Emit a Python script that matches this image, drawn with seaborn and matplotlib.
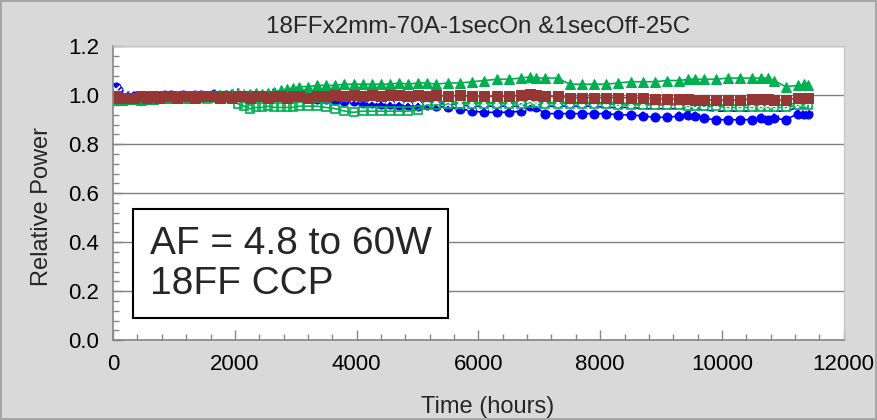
import matplotlib
matplotlib.use('Agg')
import matplotlib.pyplot as plt
from matplotlib.ticker import MultipleLocator
import seaborn as sns

sns.set_theme(style='white')
plt.rcParams['font.family'] = ['Liberation Sans', 'DejaVu Sans']

TITLE = '18FFx2mm-70A-1secOn &1secOff-25C'
X_LABEL = 'Time (hours)'
Y_LABEL = 'Relative Power'
NOTE = 'AF = 4.8 to 60W\n18FF CCP'

hours = [0, 40, 80, 150, 250, 350, 450, 550, 650, 750,
         850, 950, 1050, 1150, 1250, 1350, 1450, 1550, 1650, 1750,
         1850, 1950, 2050, 2150, 2250, 2350, 2450, 2550, 2650, 2750,
         2850, 2950, 3050, 3200, 3350, 3500, 3650, 3800, 3950, 4100,
         4250, 4400, 4550, 4700, 4850, 5000, 5150, 5300, 5500, 5700,
         5900, 6100, 6300, 6500, 6700, 6850, 6950, 7100, 7300, 7500,
         7700, 7900, 8100, 8300, 8500, 8700, 8900, 9100, 9300, 9450,
         9550, 9700, 9900, 10100, 10300, 10500, 10650, 10750, 10850, 11050,
         11250, 11350, 11420]

blue_circle = [0.995, 1.035, 1.02, 1.0, 0.995, 0.995, 0.99, 0.995, 0.99, 0.995,
               1.0, 1.0, 0.995, 1.0, 0.995, 1.0, 1.0, 0.995, 1.005, 1.0,
               1.0, 1.005, 1.01, 1.005, 1.0, 1.005, 1.0, 1.005, 1.01, 1.0,
               1.005, 1.0, 0.995, 0.99, 0.985, 0.985, 0.98, 0.975, 0.975, 0.97,
               0.97, 0.965, 0.965, 0.96, 0.96, 0.955, 0.96, 0.955, 0.95, 0.945,
               0.935, 0.93, 0.93, 0.93, 0.935, 0.955, 0.95, 0.925, 0.925, 0.925,
               0.925, 0.925, 0.925, 0.92, 0.92, 0.915, 0.91, 0.91, 0.915, 0.92,
               0.915, 0.905, 0.9, 0.9, 0.9, 0.9, 0.905, 0.9, 0.905, 0.9,
               0.925, 0.925, 0.925]

blue_cross = [1.0, 1.02, 1.01, 1.0, 1.0, 0.995, 1.0, 0.995, 1.0, 1.0,
              1.0, 1.005, 1.0, 1.0, 1.0, 1.005, 1.005, 1.0, 1.005, 1.01,
              1.005, 1.01, 1.015, 1.015, 1.01, 1.015, 1.01, 1.015, 1.01, 1.015,
              1.01, 1.015, 1.02, 1.02, 1.015, 1.01, 1.005, 1.0, 0.995, 0.99,
              0.985, 0.985, 0.98, 0.98, 0.975, 0.975, 0.97, 0.97, 0.965, 0.96,
              0.955, 0.955, 0.955, 0.955, 0.955, 0.97, 0.965, 0.955, 0.955, 0.955,
              0.955, 0.955, 0.95, 0.95, 0.95, 0.945, 0.945, 0.945, 0.945, 0.95,
              0.945, 0.94, 0.935, 0.935, 0.935, 0.935, 0.94, 0.935, 0.935, 0.935,
              0.95, 0.95, 0.95]

green_square = [0.985, 0.99, 0.985, 0.985, 0.985, 0.99, 0.985, 0.99, 0.985, 0.99,
                0.99, 0.985, 0.99, 0.985, 0.99, 0.99, 0.99, 0.985, 0.99, 0.99,
                0.99, 0.985, 0.965, 0.955, 0.945, 0.95, 0.95, 0.955, 0.95, 0.95,
                0.95, 0.95, 0.955, 0.955, 0.955, 0.95, 0.945, 0.935, 0.93, 0.935,
                0.935, 0.935, 0.935, 0.935, 0.935, 0.94, 0.96, 0.96, 0.965, 0.965,
                0.965, 0.965, 0.965, 0.965, 0.965, 0.97, 0.97, 0.965, 0.965, 0.965,
                0.965, 0.965, 0.965, 0.96, 0.96, 0.96, 0.96, 0.96, 0.96, 0.955,
                0.955, 0.955, 0.955, 0.95, 0.95, 0.95, 0.95, 0.95, 0.95, 0.95,
                0.96, 0.965, 0.96]

green_cross = [0.99, 1.0, 0.995, 0.99, 0.99, 0.99, 0.99, 0.99, 0.99, 0.995,
               0.995, 0.995, 1.0, 0.995, 1.0, 1.0, 1.005, 1.0, 1.005, 1.005,
               1.0, 1.005, 1.0, 1.005, 1.0, 1.0, 1.005, 1.0, 1.005, 1.0,
               1.005, 1.0, 1.0, 0.995, 0.995, 0.99, 0.99, 0.985, 0.985, 0.985,
               0.98, 0.98, 0.98, 0.98, 0.975, 0.975, 0.975, 0.975, 0.975, 0.97,
               0.97, 0.97, 0.97, 0.97, 0.975, 0.98, 0.975, 0.97, 0.97, 0.97,
               0.97, 0.97, 0.97, 0.97, 0.965, 0.965, 0.965, 0.965, 0.965, 0.965,
               0.965, 0.965, 0.96, 0.96, 0.96, 0.96, 0.96, 0.96, 0.96, 0.96,
               0.97, 0.975, 0.97]

green_triangle = [0.98, 0.985, 0.98, 0.98, 0.985, 0.985, 0.98, 0.985, 0.985, 0.99,
                  0.99, 0.99, 0.995, 0.995, 0.99, 0.995, 0.995, 0.995, 1.0, 1.0,
                  1.0, 1.005, 1.005, 1.0, 1.005, 1.01, 1.005, 1.01, 1.015, 1.02,
                  1.025, 1.03, 1.035, 1.035, 1.04, 1.04, 1.04, 1.045, 1.045, 1.045,
                  1.045, 1.045, 1.045, 1.05, 1.045, 1.05, 1.05, 1.045, 1.05, 1.05,
                  1.055, 1.06, 1.065, 1.065, 1.07, 1.075, 1.07, 1.07, 1.07, 1.045,
                  1.045, 1.045, 1.045, 1.05, 1.055, 1.055, 1.055, 1.06, 1.06, 1.065,
                  1.065, 1.065, 1.065, 1.07, 1.07, 1.07, 1.07, 1.07, 1.06, 1.035,
                  1.04, 1.045, 1.04]

brown_square = [0.99, 0.995, 0.99, 0.99, 0.99, 0.99, 0.995, 0.99, 0.995, 0.99,
                0.995, 0.995, 0.99, 0.995, 0.995, 0.99, 0.995, 0.995, 0.995, 0.99,
                0.995, 0.99, 0.995, 0.995, 0.99, 0.995, 0.995, 0.99, 0.995, 0.995,
                0.99, 0.995, 0.995, 0.99, 0.995, 0.995, 1.0, 0.995, 1.0, 0.995,
                1.0, 0.995, 1.0, 1.0, 0.995, 1.0, 0.995, 1.0, 0.995, 1.0,
                0.995, 0.995, 0.995, 0.995, 1.0, 1.005, 1.0, 0.995, 0.995, 0.99,
                0.99, 0.99, 0.99, 0.99, 0.99, 0.99, 0.985, 0.985, 0.985, 0.985,
                0.98, 0.98, 0.98, 0.98, 0.98, 0.985, 0.985, 0.985, 0.98, 0.98,
                0.99, 0.99, 0.99]

BLUE = '#0000ff'
GREEN = '#00b050'
BROWN = '#953735'

fig = plt.figure(figsize=(8.77, 4.2), dpi=100)
fig.patch.set_facecolor('#d9d9d9')
fig.patch.set_edgecolor('#a6a6a6')
fig.patch.set_linewidth(1.5)
ax = fig.add_axes([0.129, 0.19, 0.833, 0.70])
ax.set_facecolor('white')

# series drawn back to front
sns.lineplot(x=hours, y=blue_circle, ax=ax, color=BLUE, lw=1.2, marker='o', ms=6.5, mec=BLUE)
sns.lineplot(x=hours, y=blue_cross, ax=ax, color=BLUE, lw=1.2, marker='x', ms=5.5, mew=1.4)
sns.lineplot(x=hours, y=green_square, ax=ax, color=GREEN, lw=1.2, marker='s', ms=6, mfc='none', mec=GREEN, mew=1.2)
sns.lineplot(x=hours, y=green_cross, ax=ax, color=GREEN, lw=1.2, marker='x', ms=5, mew=1.2)
sns.lineplot(x=hours, y=green_triangle, ax=ax, color=GREEN, lw=1.2, marker='^', ms=7.5, mec=GREEN)
sns.lineplot(x=hours, y=brown_square, ax=ax, color=BROWN, lw=1.2, marker='s', ms=6.5, mec=BROWN)

ax.set_xlim(0, 12000)
ax.set_ylim(0, 1.2)
ax.xaxis.set_major_locator(MultipleLocator(2000))
ax.xaxis.set_minor_locator(MultipleLocator(400))
ax.yaxis.set_major_locator(MultipleLocator(0.2))
ax.yaxis.set_minor_locator(MultipleLocator(0.04))
ax.yaxis.set_major_formatter(plt.FormatStrFormatter('%.1f'))
ax.grid(axis='y', color='#808080', lw=1)
ax.grid(axis='x', visible=False)

for side in ['left', 'bottom']:
    ax.spines[side].set_color('#868686')
    ax.spines[side].set_linewidth(1.2)
for side in ['top', 'right']:
    ax.spines[side].set_color('#c8c8c8')
    ax.spines[side].set_linewidth(1)

ax.tick_params(which='both', direction='in', colors='#868686', labelcolor='black',
               bottom=True, left=True, labelsize=16)
ax.tick_params(which='major', length=7, width=1, pad=10)
ax.tick_params(which='minor', length=4, width=1)

ax.set_xlabel(X_LABEL, fontsize=17)
ax.set_ylabel(Y_LABEL, fontsize=17)
ax.xaxis.set_label_coords(0.513, -0.19)
ax.yaxis.set_label_coords(-0.082, 0.456)
fig.suptitle(TITLE, x=0.545, y=0.962, fontsize=17.5)

ax.text(0.05, 0.26, NOTE, transform=ax.transAxes, fontsize=28, va='center', ha='left',
        linespacing=1.15,
        bbox=dict(boxstyle='square,pad=0.42', facecolor='white', edgecolor='black', lw=1.5))

fig.savefig('out.png', dpi=100, facecolor=fig.get_facecolor(), edgecolor=fig.get_edgecolor())
